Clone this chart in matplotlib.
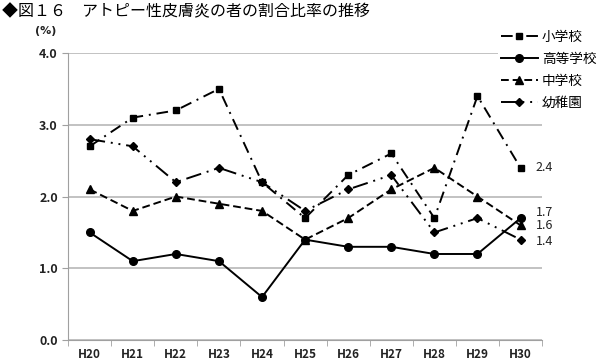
import matplotlib
matplotlib.use('Agg')
import matplotlib.pyplot as plt
from matplotlib.ticker import FixedLocator

plt.rcParams['font.family'] = ['Noto Sans CJK JP', 'DejaVu Sans']

# ------------データ--------------------------------
years = ['H20', 'H21', 'H22', 'H23', 'H24', 'H25', 'H26', 'H27', 'H28', 'H29', 'H30']
shogakko = [2.7, 3.1, 3.2, 3.5, 2.2, 1.7, 2.3, 2.6, 1.7, 3.4, 2.4]
koto = [1.5, 1.1, 1.2, 1.1, 0.6, 1.4, 1.3, 1.3, 1.2, 1.2, 1.7]
chugakko = [2.1, 1.8, 2.0, 1.9, 1.8, 1.4, 1.7, 2.1, 2.4, 2.0, 1.6]
yochien = [2.8, 2.7, 2.2, 2.4, 2.2, 1.8, 2.1, 2.3, 1.5, 1.7, 1.4]

fig = plt.figure(figsize=(6.03, 3.63), dpi=100)
ax = fig.add_axes([0.113, 0.063, 0.786, 0.791])

x = range(len(years))
ax.plot(x, shogakko, color='black', lw=1.4, ls=(0, (6, 3, 1, 3)),
        marker='s', ms=4.5, label='小学校')
ax.plot(x, koto, color='black', lw=1.4, ls='-',
        marker='o', ms=5.5, label='高等学校')
ax.plot(x, chugakko, color='black', lw=1.4, ls=(0, (4, 2)),
        marker='^', ms=5.5, label='中学校')
ax.plot(x, yochien, color='black', lw=1.4, ls=(0, (8, 3, 1, 3, 1, 3)),
        marker='D', ms=4, label='幼稚園')

# 右端のラベル
last = len(years) - 1
for vals, dy in [(shogakko, 0), (koto, 0.08), (chugakko, 0), (yochien, -0.03)]:
    ax.text(last + 0.35, vals[-1] + dy, f'{vals[-1]:.1f}', fontsize=9,
            va='center', ha='left', color='#222222')

ax.set_xlim(-0.5, len(years) - 0.5)
ax.set_ylim(0, 4.0)
ax.set_yticks([0, 1, 2, 3, 4])
ax.set_yticklabels(['0.0', '1.0', '2.0', '3.0', '4.0'], fontsize=9, fontweight='bold', color='#222222')
ax.set_xticks(list(x))
ax.set_xticklabels(years, fontsize=8.5, fontweight='bold', color='#222222')
ax.xaxis.set_minor_locator(FixedLocator([i - 0.5 for i in range(len(years) + 1)]))
ax.tick_params(axis='x', which='major', length=0, pad=6)
ax.tick_params(axis='x', which='minor', length=4, color='#a0a0a0')
ax.tick_params(axis='y', length=4, color='#a0a0a0')

ax.grid(axis='y', color='#b8b8b8', lw=1.2)
ax.set_axisbelow(True)
for s in ['top', 'right']:
    ax.spines[s].set_visible(False)
ax.spines['left'].set_color('#a0a0a0')
ax.spines['bottom'].set_color('#a0a0a0')

fig.text(0.003, 0.99, '◆図１６　アトピー性皮膚炎の者の割合比率の推移', fontsize=11.5,
         va='top', ha='left')
fig.text(0.058, 0.905, '(%)', fontsize=8, fontweight='bold', color='#222222',
         family='DejaVu Sans')

leg = fig.legend(loc='upper left', bbox_to_anchor=(0.815, 0.945), frameon=True,
                 fontsize=9.8, handlelength=2.7, labelspacing=0.6, borderpad=0.2,
                 handletextpad=0.3)
leg.get_frame().set_edgecolor('none')
leg.get_frame().set_facecolor('white')
leg.get_frame().set_alpha(1.0)

plt.savefig('out.png', dpi=100)
